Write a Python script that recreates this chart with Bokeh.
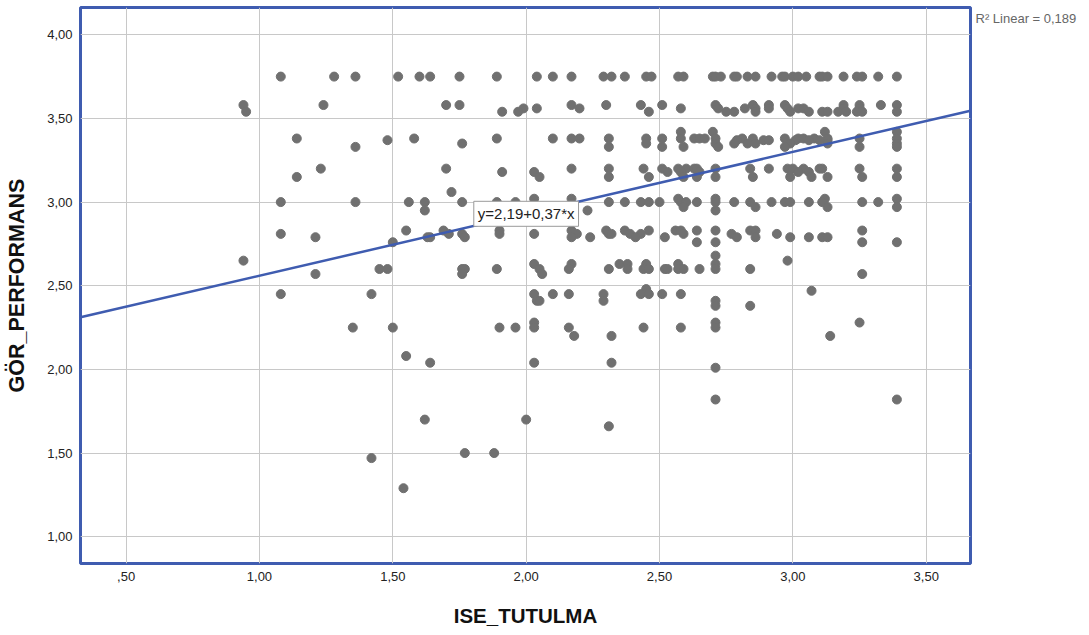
from bokeh.plotting import figure
from bokeh.models import (Range1d, FixedTicker, CustomJSTickFormatter, Label, ColumnDataSource,
                          LinearAxis)
from bokeh.embed import file_html
from bokeh.resources import INLINE

# ---- data ----
# GÖR_PERFORMANS levels and the ISE_TUTULMA values of the points on each level
gor_levels = [3.75, 3.58, 3.56, 3.54, 3.42, 3.38, 3.37, 3.35, 3.33,
              3.20, 3.18, 3.15, 3.06, 3.02, 3.00, 2.97, 2.95,
              2.83, 2.81, 2.79, 2.76, 2.68, 2.65, 2.63, 2.60, 2.57,
              2.48, 2.47, 2.45, 2.41, 2.38, 2.28, 2.25, 2.20, 2.08, 2.04,
              2.01, 1.82, 1.70, 1.66, 1.50, 1.47, 1.29]
ise_rows = [
    [1.08, 1.28, 1.36, 1.52, 1.60, 1.64, 1.75, 1.89, 2.04, 2.10, 2.17, 2.29, 2.32, 2.37, 2.45, 2.47,
     2.57, 2.59, 2.70, 2.71, 2.73, 2.78, 2.79, 2.83, 2.86, 2.92, 2.96, 2.97, 3.00, 3.02, 3.05, 3.10,
     3.11, 3.13, 3.19, 3.24, 3.26, 3.32, 3.39],
    [0.94, 1.24, 1.70, 1.75, 2.17, 2.30, 2.43, 2.51, 2.71, 2.85, 2.91, 2.97, 3.19, 3.25, 3.33, 3.39],
    [1.99, 2.04, 2.20, 2.58, 2.72, 2.82, 2.86, 2.91, 2.98, 3.02, 3.04, 3.19, 3.25],
    [0.95, 1.91, 1.97, 2.46, 2.75, 2.78, 2.86, 2.99, 3.06, 3.11, 3.13, 3.17, 3.20, 3.24, 3.26, 3.39],
    [2.58, 2.70, 3.12, 3.39],
    [1.14, 1.58, 1.89, 2.10, 2.17, 2.20, 2.31, 2.45, 2.51, 2.58, 2.63, 2.65, 2.67, 2.71, 2.81, 2.85,
     2.97, 3.02, 3.04, 3.08, 3.13, 3.25, 3.39],
    [1.48, 2.79, 2.89, 2.91, 3.01, 3.06, 3.10, 3.13],
    [1.76, 2.45, 2.71, 2.78, 2.83, 2.86, 2.99, 3.13, 3.39],
    [1.36, 2.31, 2.51, 2.59, 2.72, 2.97, 3.25, 3.39],
    [1.23, 1.70, 2.17, 2.31, 2.44, 2.51, 2.57, 2.60, 2.63, 2.64, 2.71, 2.84, 2.91, 2.98, 3.00, 3.04,
     3.10, 3.11, 3.25, 3.39],
    [1.91, 2.03, 2.53, 2.58, 2.65, 3.02, 3.06],
    [1.14, 2.05, 2.31, 2.46, 2.59, 2.64, 2.71, 2.85, 2.99, 3.07, 3.13, 3.26, 3.39],
    [1.72],
    [2.03, 2.17, 2.57, 2.71, 3.12, 3.39],
    [1.08, 1.36, 1.56, 1.62, 1.76, 1.89, 1.96, 2.31, 2.37, 2.43, 2.46, 2.50, 2.58, 2.60, 2.64, 2.71,
     2.78, 2.84, 2.92, 2.97, 2.99, 3.06, 3.11, 3.26, 3.32],
    [2.59, 2.86, 3.13, 3.39],
    [1.62, 2.23, 2.71],
    [1.55, 1.69, 1.90, 2.17, 2.30, 2.37, 2.46, 2.56, 2.58, 2.64, 2.71, 2.84, 2.86, 3.26],
    [1.08, 1.71, 1.76, 1.90, 2.03, 2.19, 2.31, 2.32, 2.39, 2.43, 2.59, 2.77, 2.94],
    [1.21, 1.63, 1.64, 1.77, 2.17, 2.24, 2.41, 2.52, 2.79, 2.86, 2.99, 3.06, 3.11, 3.13],
    [1.50, 2.64, 2.71, 3.26, 3.39],
    [2.71],
    [0.94, 2.98],
    [2.03, 2.17, 2.35, 2.38, 2.45, 2.57, 2.71],
    [1.45, 1.48, 1.76, 1.77, 1.89, 2.05, 2.16, 2.31, 2.38, 2.44, 2.46, 2.52, 2.53, 2.57, 2.59, 2.65,
     2.71, 2.84],
    [1.21, 1.76, 2.06, 3.26],
    [2.45],
    [3.07],
    [1.08, 1.42, 2.03, 2.10, 2.16, 2.29, 2.43, 2.46, 2.51, 2.58],
    [2.04, 2.05, 2.29, 2.71],
    [2.71, 2.84],
    [2.03, 2.71, 3.25],
    [1.35, 1.50, 1.90, 1.96, 2.03, 2.16, 2.44, 2.58, 2.71],
    [2.18, 2.32, 3.14],
    [1.55],
    [1.64, 2.03, 2.32],
    [2.71],
    [2.71, 3.39],
    [1.62, 2.00],
    [2.31],
    [1.77, 1.88],
    [1.42],
    [1.54],
]

x_ticks = [0.5, 1.0, 1.5, 2.0, 2.5, 3.0, 3.5]
x_tick_labels = [",50", "1,00", "1,50", "2,00", "2,50", "3,00", "3,50"]
y_ticks = [1.0, 1.5, 2.0, 2.5, 3.0, 3.5, 4.0]
y_tick_labels = ["1,00", "1,50", "2,00", "2,50", "3,00", "3,50", "4,00"]

intercept = 2.19
slope = 0.37
r_squared = "0,189"

x_name = "ISE_TUTULMA"
y_name = "GÖR_PERFORMANS"

# ---- build ----
xs, ys = [], []
for lvl, row in zip(gor_levels, ise_rows):
    for v in row:
        xs.append(v)
        ys.append(lvl)
src = ColumnDataSource(dict(x=xs, y=ys))

x_lo, x_hi = 0.329, 3.666
y_lo, y_hi = 0.84, 4.163

blue = "#3f5cb0"
FONT = "Liberation Sans"

p = figure(width=1089, height=635, output_backend="svg", toolbar_location=None,
           x_range=Range1d(x_lo, x_hi), y_range=Range1d(y_lo, y_hi),
           min_border_left=80, min_border_right=119, min_border_top=7, min_border_bottom=72)

p.background_fill_color = "white"
p.border_fill_color = "white"
p.outline_line_color = blue
p.outline_line_width = 3

for ax, ticks, labels in ((p.xaxis, x_ticks, x_tick_labels), (p.yaxis, y_ticks, y_tick_labels)):
    ax.ticker = FixedTicker(ticks=ticks)
    ax.formatter = CustomJSTickFormatter(args=dict(vals=ticks, labels=labels), code="""
        const i = vals.findIndex(v => Math.abs(v - tick) < 1e-9);
        return i >= 0 ? labels[i] : '';
    """)
    ax.axis_line_color = None
    ax.major_tick_line_color = None
    ax.minor_tick_line_color = None
    ax.major_tick_out = 0
    ax.major_tick_in = 0
    ax.major_label_text_font = FONT
    ax.major_label_text_font_size = "13px"
    ax.major_label_text_color = "#222222"
    ax.axis_label_text_font = FONT
    ax.axis_label_text_font_style = "bold"
    ax.axis_label_text_color = "#111111"

p.xaxis.axis_label = x_name
p.yaxis.axis_label = y_name
p.xaxis.axis_label_text_font_size = "20.5px"
p.yaxis.axis_label_text_font_size = "21.5px"
p.xaxis.major_label_standoff = 8
p.xaxis.axis_label_standoff = 20
p.yaxis.major_label_standoff = 8
p.yaxis.axis_label_standoff = 15

p.xgrid.ticker = FixedTicker(ticks=x_ticks)
p.ygrid.ticker = FixedTicker(ticks=y_ticks)
p.grid.grid_line_color = "#c8c8c8"
p.grid.grid_line_width = 1

p.scatter("x", "y", source=src, size=9, fill_color="#707070", line_color="#707070")

p.line([x_lo, x_hi], [intercept + slope * x_lo, intercept + slope * x_hi],
       line_color=blue, line_width=2.5)

eq_text = ("y=%.2f+%.2f*x" % (intercept, slope)).replace(".", ",")
p.add_layout(Label(x=2.0, y=2.93, text=eq_text, text_align="center", text_baseline="middle",
                   text_font=FONT, text_font_size="15px", text_color="#222222",
                   background_fill_color="white", border_line_color="#9a9a9a",
                   border_line_width=1, padding=4))

# R² note, written in the right margin next to the top of the frame
r2_pos = [4.10]
r2_text = ["R² Linear = " + r_squared]
r2_axis = LinearAxis(ticker=FixedTicker(ticks=r2_pos),
                     formatter=CustomJSTickFormatter(args=dict(labels=r2_text),
                                                     code="return labels[0];"))
r2_axis.axis_line_color = None
r2_axis.major_tick_line_color = None
r2_axis.minor_tick_line_color = None
r2_axis.major_tick_out = 0
r2_axis.major_tick_in = 0
r2_axis.major_label_standoff = 5
r2_axis.major_label_text_font = FONT
r2_axis.major_label_text_font_size = "13px"
r2_axis.major_label_text_color = "#666666"
p.add_layout(r2_axis, "right")

open("out.html", "w").write(file_html(p, INLINE))
